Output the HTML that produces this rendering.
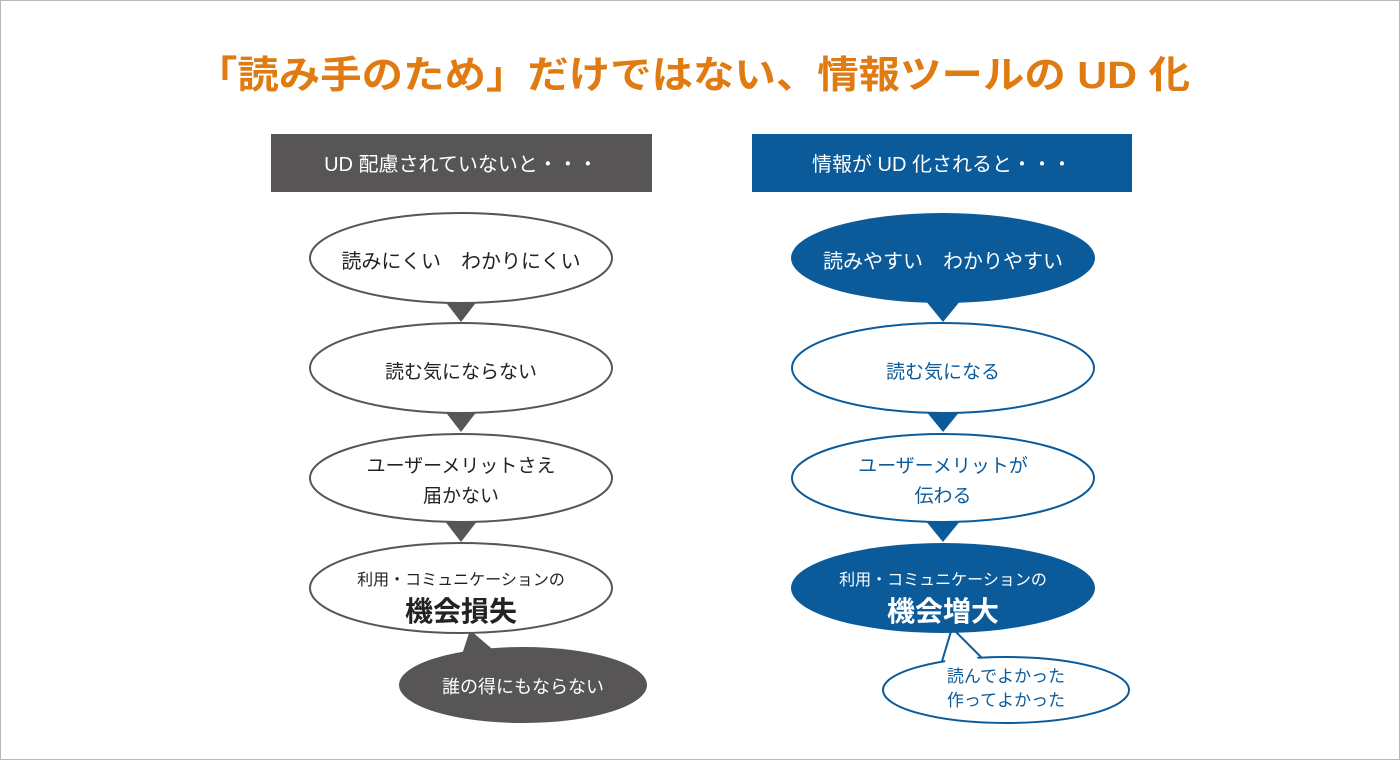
<!DOCTYPE html>
<html><head><meta charset="utf-8"><style>
html,body{margin:0;padding:0;background:#fff}
svg{display:block}
text{font-family:"Liberation Sans","Noto Sans CJK JP",sans-serif}
</style></head><body>
<svg width="1400" height="760" viewBox="0 0 1400 760" xmlns="http://www.w3.org/2000/svg">
<rect x="0.5" y="0.5" width="1399" height="759" fill="#fff" stroke="#b8b8b8"/>
<text x="196" y="88" font-size="38" fill="#e07b12" font-weight="bold" textLength="994" lengthAdjust="spacingAndGlyphs">「読み手のため」だけではない、情報ツールの UD 化</text>

<rect x="271" y="134" width="381" height="58" fill="#575556"/>
<text x="461" y="171" font-size="20" fill="#fff" text-anchor="middle">UD 配慮されていないと・・・</text>
<rect x="752" y="134" width="380" height="58" fill="#0b5b9b"/>
<text x="942" y="171" font-size="20" fill="#fff" text-anchor="middle">情報が UD 化されると・・・</text>

<!-- left -->
<g fill="#575556">
<polygon points="444,300 478,300 461,322"/>
<polygon points="444,410 478,410 461,432"/>
<polygon points="444,520 478,520 461,542"/>
<polygon points="470,630 452,685 505,660"/>
</g>
<g fill="#fff" stroke="#575556" stroke-width="2">
<ellipse cx="461" cy="258" rx="151" ry="45"/>
<ellipse cx="461" cy="368" rx="151" ry="45"/>
<ellipse cx="461" cy="478" rx="151" ry="44"/>
<ellipse cx="461" cy="588" rx="151" ry="45"/>
</g>
<ellipse cx="523" cy="685" rx="124" ry="38" fill="#575556"/>
<g fill="#222" text-anchor="middle">
<text x="461" y="268" font-size="20">読みにくい　わかりにくい</text>
<text x="461" y="378" font-size="19">読む気にならない</text>
<text x="461" y="472" font-size="19">ユーザーメリットさえ</text>
<text x="461" y="502" font-size="19">届かない</text>
<text x="461" y="585" font-size="16">利用・コミュニケーションの</text>
<text x="461" y="621" font-size="28" font-weight="bold">機会損失</text>
</g>
<text x="523" y="693" font-size="18" fill="#fff" text-anchor="middle">誰の得にもならない</text>

<!-- right -->
<g fill="#0b5b9b">
<polygon points="925,300 961,300 943,322"/>
<polygon points="925,410 961,410 943,432"/>
<polygon points="925,520 961,520 943,542"/>
</g>
<ellipse cx="943" cy="258" rx="152" ry="45" fill="#0b5b9b"/>
<g fill="#fff" stroke="#0b5b9b" stroke-width="2">
<ellipse cx="943" cy="368" rx="151" ry="45"/>
<ellipse cx="943" cy="478" rx="151" ry="44"/>
</g>
<polygon points="952,628 940,668 988,664" fill="#fff" stroke="#0b5b9b" stroke-width="2"/>
<ellipse cx="943" cy="588" rx="152" ry="45" fill="#0b5b9b"/>
<ellipse cx="1006" cy="690" rx="123" ry="33" fill="#fff" stroke="#0b5b9b" stroke-width="2"/>
<polygon points="952,634 943,670 986,666" fill="#fff"/>
<g text-anchor="middle">
<text x="943" y="268" font-size="20" fill="#fff">読みやすい　わかりやすい</text>
<text x="943" y="378" font-size="19" fill="#0b5b9b">読む気になる</text>
<text x="943" y="472" font-size="19" fill="#0b5b9b">ユーザーメリットが</text>
<text x="943" y="502" font-size="19" fill="#0b5b9b">伝わる</text>
<text x="943" y="585" font-size="16" fill="#fff">利用・コミュニケーションの</text>
<text x="943" y="621" font-size="28" font-weight="bold" fill="#fff">機会増大</text>
<text x="1006" y="682" font-size="17" fill="#0b5b9b">読んでよかった</text>
<text x="1006" y="706" font-size="17" fill="#0b5b9b">作ってよかった</text>
</g>
</svg>
</body></html>
